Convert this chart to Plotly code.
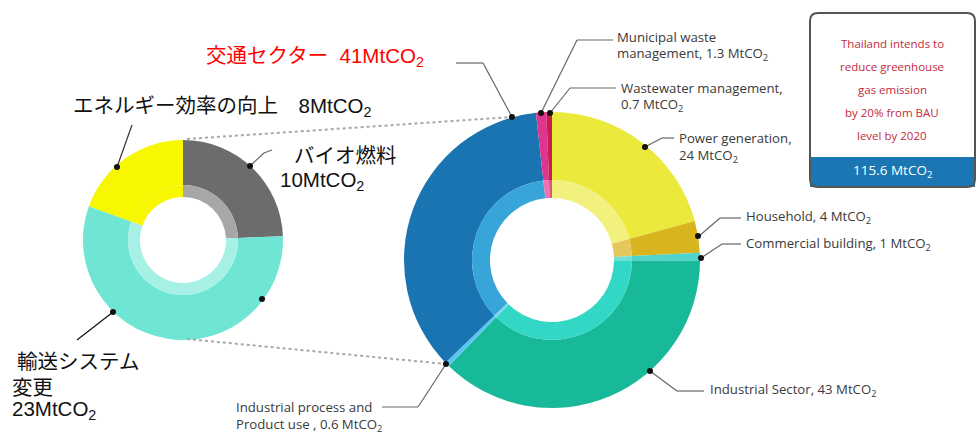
import plotly.graph_objects as go

W, H = 979, 435

# ---- data ----
big_labels = ["Power generation", "Household", "Commercial building", "Industrial Sector",
              "Industrial process and Product use", "Transport", "Municipal waste management",
              "Wastewater management"]
big_values = [24, 4, 1, 43, 0.6, 41, 1.3, 0.7]
big_outer_colors = ["#ebe93b", "#d8b41f", "#52d3c9", "#17b998", "#58c7f0", "#1b74b2", "#e0358f", "#c91d4d"]
big_inner_colors = ["#f3f17d", "#e4c85c", "#74e0d7", "#33d7c5", "#7ad6f4", "#37a5d8", "#ef72b5", "#d9587c"]

small_labels = ["バイオ燃料", "輸送システム変更", "エネルギー効率の向上"]
small_values = [10, 23, 8]
small_outer_colors = ["#6c6c6c", "#6ee6d3", "#f7f700"]
small_inner_colors = ["#a7a7a7", "#a6f0e6", "#f7f700"]

total_value = 115.6
transport_value = 41

box_lines = ["Thailand intends to", "reduce greenhouse", "gas emission", "by 20% from BAU", "level by 2020"]


def X(p):
    return p / W


def Y(p):
    return 1 - p / H


def dom(cx, cy, r):
    return dict(x=[X(cx - r), X(cx + r)], y=[Y(cy + r), Y(cy - r)])


fig = go.Figure()


def ring(values, labels, colors, cx, cy, r_out, r_in):
    fig.add_trace(go.Pie(
        values=values, labels=labels, sort=False, direction="clockwise", rotation=0,
        hole=r_in / r_out, domain=dom(cx, cy, r_out),
        marker=dict(colors=colors, line=dict(width=0)),
        textinfo="none", hoverinfo="label+value", showlegend=False,
    ))


# big donut
BCX, BCY = 552, 260
ring(big_values, big_labels, big_outer_colors, BCX, BCY, 148, 80)
ring(big_values, big_labels, big_inner_colors, BCX, BCY, 80, 62)
# small donut
SCX, SCY = 183, 240
ring(small_values, small_labels, small_outer_colors, SCX, SCY, 100, 55)
ring(small_values, small_labels, small_inner_colors, SCX, SCY, 55, 43)

shapes = []
annotations = []


def line(pts, color="#666666", width=1.2, dash="solid"):
    for (x0, y0), (x1, y1) in zip(pts[:-1], pts[1:]):
        shapes.append(dict(type="line", xref="paper", yref="paper",
                           x0=X(x0), y0=Y(y0), x1=X(x1), y1=Y(y1),
                           line=dict(color=color, width=width, dash=dash)))


def dot(x, y, r=3, color="#111111"):
    shapes.append(dict(type="circle", xref="paper", yref="paper",
                       x0=X(x - r), x1=X(x + r), y0=Y(y + r), y1=Y(y - r),
                       fillcolor=color, line=dict(width=0)))


EN = "Open Sans, Noto Sans, sans-serif"


def text(x, y, s, size=13.2, color="#3a3a3a", family=EN, anchor="left"):
    annotations.append(dict(x=X(x), y=Y(y), xref="paper", yref="paper", text=s,
                            showarrow=False, xanchor=anchor, yanchor="middle",
                            font=dict(size=size, color=color, family=family), align="left"))


# dotted connectors between donuts
line([(187, 139), (512, 117)], color="#a8a8a8", width=2, dash="dot")
line([(187, 339), (446, 364)], color="#a8a8a8", width=2, dash="dot")

# big donut leaders
line([(456, 63), (483, 63), (512, 117)])
dot(512, 117)
line([(541, 113), (577, 40), (613, 40)])
dot(541, 113)
line([(550, 113), (570, 88), (616, 88)])
dot(550, 113)
line([(645, 147), (662, 138), (674, 138)])
dot(645, 147)
line([(698, 237), (720, 218), (741, 218)])
dot(698, 236)
line([(701, 258), (722, 244), (741, 244)])
dot(701, 258)
line([(650, 371), (677, 391), (704, 391)])
dot(650, 371)
line([(446, 364), (418, 407), (382, 407)])
dot(446, 364)

sub2 = "MtCO<sub>2</sub>"
text(615, 37, "Municipal waste")
text(615, 54, f"management, {big_values[6]} " + sub2)
text(619, 88, "Wastewater management,")
text(619, 105, f"{big_values[7]} " + sub2)
text(677, 138, "Power generation,")
text(677, 156, f"{big_values[0]} " + sub2)
text(744, 217, f"Household, {big_values[1]} " + sub2)
text(744, 244, f"Commercial building, {big_values[2]} " + sub2)
text(708, 390, f"Industrial Sector, {big_values[3]} " + sub2)
text(234, 407, "Industrial process and")
text(234, 425, f"Product use , {big_values[4]} " + sub2)

# small donut leaders
JP = "Liberation Sans, Arial, Noto Sans CJK JP, sans-serif"
JS = 20.5
line([(132, 125), (117, 167)], color="#333333", width=1.2)
dot(117, 167)
line([(250, 166), (264, 153), (272, 150)], color="#666666", width=1.2)
dot(250, 166)
line([(113, 312), (77, 340)], color="#111111", width=1.2)
dot(113, 312)
dot(262, 299)

text(71, 107, f"エネルギー効率の向上　{small_values[2]}MtCO<sub>2</sub>", JS, "#111111", JP)
text(292, 155, "バイオ燃料", JS, "#111111", JP)
text(278, 181, f"{small_values[0]}MtCO<sub>2</sub>", JS, "#111111", JP)
text(15, 361, "輸送システム", JS, "#111111", JP)
text(10, 387, "変更", JS, "#111111", JP)
text(10, 410, f"{small_values[1]}MtCO<sub>2</sub>", JS, "#111111", JP)

text(204, 57, f"交通セクター  {transport_value}MtCO<sub>2</sub>", JS, "#ff0000", JP)

# right info box
shapes.append(dict(type="rect", xref="paper", yref="paper", x0=X(810), x1=X(975), y0=Y(187), y1=Y(157),
                   fillcolor="#1a77b3", line=dict(width=0), layer="below"))
shapes.append(dict(type="path", xref="paper", yref="paper",
                   path=(f"M {X(818)} {Y(13)} L {X(967)} {Y(13)} Q {X(975)} {Y(13)} {X(975)} {Y(21)} "
                         f"L {X(975)} {Y(179)} Q {X(975)} {Y(187)} {X(967)} {Y(187)} "
                         f"L {X(818)} {Y(187)} Q {X(810)} {Y(187)} {X(810)} {Y(179)} "
                         f"L {X(810)} {Y(21)} Q {X(810)} {Y(13)} {X(818)} {Y(13)} Z"),
                   line=dict(color="#555555", width=2)))
for i, s in enumerate(box_lines):
    text(892, 43 + i * 23.2, s, 11.5, "#c32a3e", anchor="center")
text(892, 171, f"{total_value} " + sub2, 13.5, "#ffffff", anchor="center")

fig.update_layout(width=W, height=H, margin=dict(l=0, r=0, t=0, b=0),
                  paper_bgcolor="white", plot_bgcolor="white",
                  shapes=shapes, annotations=annotations, showlegend=False)

fig.write_html("out.html")
